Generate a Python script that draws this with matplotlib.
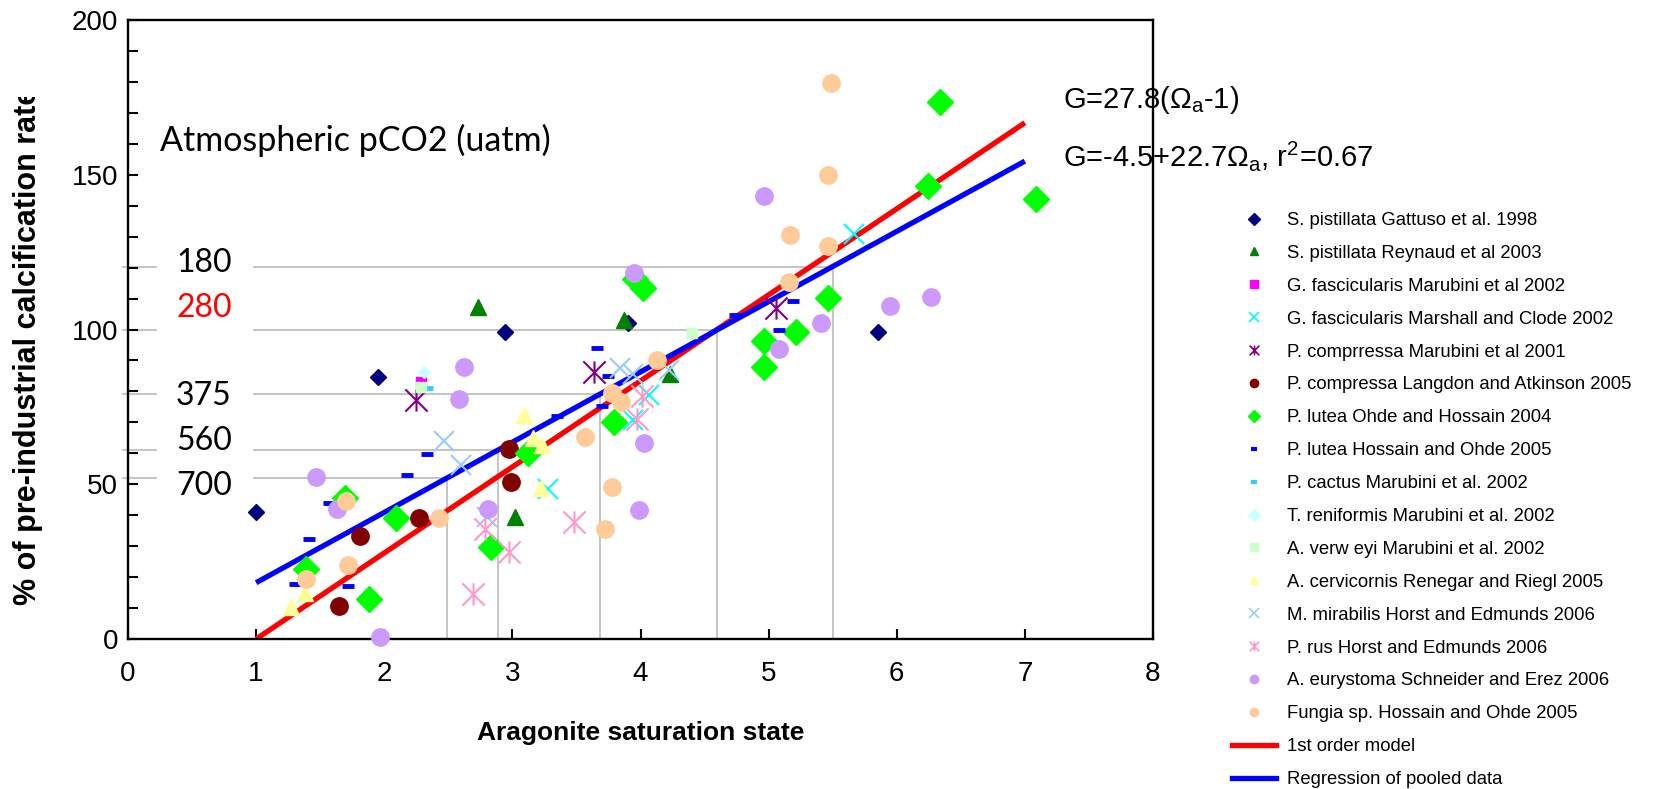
import numpy as np
import matplotlib
matplotlib.use("Agg")
import matplotlib.pyplot as plt
from matplotlib.path import Path
from matplotlib.lines import Line2D
from matplotlib.transforms import Bbox, TransformedBbox

plt.rcParams['font.family'] = ['Liberation Sans', 'DejaVu Sans']
plt.rcParams['mathtext.fontset'] = 'custom'
plt.rcParams['mathtext.rm'] = 'Liberation Sans'
plt.rcParams['mathtext.it'] = 'Liberation Sans:italic'
plt.rcParams['mathtext.bf'] = 'Liberation Sans:bold'

# ------------------------------
# Data (aragonite saturation state, % of pre-industrial calcification)
# ------------------------------
gattuso_x = [1.00, 1.95, 2.94, 3.90, 5.85]
gattuso_y = [41.1, 84.5, 99.3, 102.1, 99.1]

reynaud_x = [2.73, 3.87, 3.02, 4.23]
reynaud_y = [107.4, 103.0, 39.5, 85.6]

gfasc_marubini_x = [2.29]
gfasc_marubini_y = [82.9]

marshall_x = [3.28, 4.07, 3.94, 5.67]
marshall_y = [48.4, 78.8, 70.8, 131.0]

pcomp_marubini_x = [2.25, 3.64, 5.06]
pcomp_marubini_y = [77.2, 86.4, 106.8]

langdon_x = [1.65, 1.81, 2.27, 2.97, 2.99]
langdon_y = [10.7, 33.4, 39.0, 61.3, 50.8]

ohde_x = [1.39, 1.69, 1.88, 2.09, 2.83, 3.12, 3.79, 3.96, 4.02, 4.96, 4.96, 5.21, 5.46, 6.24, 6.34, 7.09]
ohde_y = [22.5, 45.5, 12.8, 39.0, 29.8, 60.0, 70.2, 116.2, 113.3, 96.4, 88.0, 99.1, 110.3, 146.5, 173.4, 142.1]

hossain_x = [1.30, 1.41, 1.57, 1.72, 2.18, 2.33, 3.35, 3.66, 3.70, 3.75, 4.74, 5.08, 5.19]
hossain_y = [17.8, 32.3, 44.0, 17.2, 53.1, 59.7, 72.2, 94.1, 75.3, 85.1, 104.7, 99.8, 109.2]

cactus_x = [2.33]
cactus_y = [81.0]

reniformis_x = [2.31]
reniformis_y = [86.4]

verweyi_x = [2.29, 4.40]
verweyi_y = [81.4, 98.8]

cervicornis_x = [1.27, 1.38, 3.09, 3.16, 3.23, 3.22]
cervicornis_y = [10.4, 14.8, 72.4, 64.8, 62.7, 48.7]

mirabilis_x = [2.47, 2.60, 2.80, 3.84, 3.94, 4.22]
mirabilis_y = [64.1, 56.2, 39.3, 87.5, 85.5, 86.9]

rus_x = [2.69, 2.79, 2.97, 3.48, 3.97, 4.01]
rus_y = [14.5, 35.4, 28.0, 37.9, 71.0, 78.6]

eurystoma_x = [1.47, 1.63, 1.97, 2.58, 2.62, 2.81, 3.95, 3.99, 4.03, 4.96, 5.08, 5.41, 5.95, 6.27]
eurystoma_y = [52.4, 41.9, 0.7, 77.5, 88.0, 41.9, 118.2, 41.7, 63.4, 143.2, 93.6, 102.0, 107.6, 110.4]

fungia_x = [1.39, 1.70, 1.72, 2.43, 3.57, 3.72, 3.78, 3.78, 3.85, 4.13, 5.16, 5.17, 5.46, 5.46, 5.49]
fungia_y = [19.4, 44.6, 23.9, 39.0, 65.2, 35.5, 49.0, 79.6, 76.7, 90.1, 115.2, 130.5, 127.1, 149.9, 179.5]

# atmospheric pCO2 levels and the saturation state they correspond to
pco2_labels = ['180', '280', '375', '560', '700']
pco2_omega = [5.50, 4.60, 3.68, 2.89, 2.49]

# model lines
omega_line = np.array([1.0, 7.0])
model_g = 27.8 * (omega_line - 1)
regress_g = -4.5 + 22.7 * omega_line

# ------------------------------
# Marker styles
# ------------------------------
star = Path([(0, -1), (0, 1), (-1, -1), (1, 1), (-1, 1), (1, -1)],
            [Path.MOVETO, Path.LINETO, Path.MOVETO, Path.LINETO, Path.MOVETO, Path.LINETO])

series = [
    ("S. pistillata Gattuso et al. 1998", gattuso_x, gattuso_y, 'D', '#000080', 8, 1),
    ("S. pistillata Reynaud et al 2003", reynaud_x, reynaud_y, '^', '#008000', 12, 1),
    ("G. fascicularis Marubini et al 2002", gfasc_marubini_x, gfasc_marubini_y, 's', '#FF00FF', 7, 1),
    ("G. fascicularis Marshall and Clode 2002", marshall_x, marshall_y, 'x', '#00FFFF', 15, 1.5),
    ("P. comprressa Marubini et al 2001", pcomp_marubini_x, pcomp_marubini_y, star, '#800080', 16, 1.5),
    ("P. compressa Langdon and Atkinson 2005", langdon_x, langdon_y, 'o', '#800000', 12.5, 1),
    ("P. lutea Ohde and Hossain 2004", ohde_x, ohde_y, 'D', '#00FF00', 13, 1),
    ("P. lutea Hossain and Ohde 2005", hossain_x, hossain_y, '_', '#0000FF', 9, 3.5),
    ("P. cactus Marubini et al. 2002", cactus_x, cactus_y, '_', '#33CCFF', 9, 3.5),
    ("T. reniformis Marubini et al. 2002", reniformis_x, reniformis_y, 'D', '#CCFFFF', 6.5, 1),
    ("A. verw eyi Marubini et al. 2002", verweyi_x, verweyi_y, 's', '#CCFFCC', 7.5, 1),
    ("A. cervicornis Renegar and Riegl 2005", cervicornis_x, cervicornis_y, '^', '#FFFF99', 11, 1),
    ("M. mirabilis Horst and Edmunds 2006", mirabilis_x, mirabilis_y, 'x', '#99CCFF', 15, 1.5),
    ("P. rus Horst and Edmunds 2006", rus_x, rus_y, star, '#FF99CC', 16, 1.5),
    ("A. eurystoma Schneider and Erez 2006", eurystoma_x, eurystoma_y, 'o', '#CC99FF', 12.5, 1),
    ("Fungia sp. Hossain and Ohde 2005", fungia_x, fungia_y, 'o', '#FFCC99', 12.5, 1),
]

W, H = 1653, 789
fig = plt.figure(figsize=(W / 100, H / 100), dpi=100)
ax = fig.add_axes([128 / W, 1 - 639 / H, 1025 / W, 619 / H])

GRAY = '#BFBFBF'

# pCO2 guide lines, meeting the pooled regression line
for lab, om in zip(pco2_labels, pco2_omega):
    g = -4.5 + 22.7 * om
    ax.plot([-0.04, 0.22], [g, g], color=GRAY, lw=1.3, zorder=1, clip_on=False)
    ax.plot([0.98, om], [g, g], color=GRAY, lw=1.3, zorder=1)
    ax.plot([om, om], [0, g], color=GRAY, lw=1.3, zorder=1)

ax.plot(omega_line, model_g, color='#FF0000', lw=3.8, zorder=2, solid_capstyle='butt')
ax.plot(omega_line, regress_g, color='#0000FF', lw=3.8, zorder=2, solid_capstyle='butt')

handles = []
for i, (name, xs, ys, mk, col, ms, mew) in enumerate(series):
    ax.plot(xs, ys, ls='none', marker=mk, color=col, markersize=ms, markeredgewidth=mew,
            markeredgecolor=col, zorder=3 + i * 0.01, clip_on=False)
    if mk == '_':
        lms, lmew = 5, 3
    elif mk == 'x' or mk is star:
        lms, lmew = 7, 1.2
    else:
        lms, lmew = 6, 1
    handles.append(Line2D([], [], ls='none', marker=mk, color=col, markersize=lms,
                          markeredgewidth=lmew, markeredgecolor=col, label=name))
handles.append(Line2D([], [], color='#FF0000', lw=3.8, label='1st order model'))
handles.append(Line2D([], [], color='#0000FF', lw=3.8, label='Regression of pooled data'))

# ------------------------------
# Axes styling
# ------------------------------
ax.set_xlim(0, 8)
ax.set_ylim(0, 200)
ax.set_xticks(range(0, 9))
ax.set_yticks(range(0, 201, 10))
ax.set_yticklabels([str(v) if v % 50 == 0 else '' for v in range(0, 201, 10)])
ax.tick_params(axis='both', direction='in', length=7, width=1.5, labelsize=20, color='black')
ax.tick_params(axis='x', pad=16)
ax.tick_params(axis='y', pad=7)
for sp in ax.spines.values():
    sp.set_linewidth(1.7)
    sp.set_color('black')

ax.set_xlabel('Aragonite saturation state', fontsize=19, fontweight='bold', labelpad=24)

ylab = fig.text(28 / W, 1 - 605 / H, '% of pre-industrial calcification rate', rotation=90,
                ha='center', va='bottom', fontsize=22, fontweight='bold')
ylab.set_clip_on(True)
ylab.set_clip_box(TransformedBbox(Bbox([[0, 0], [1, 1 - 97 / H]]), fig.transFigure))

# pCO2 annotation (Calibri-like font)
ax.text(0.25, 161, 'Atmospheric pCO2 (uatm)', fontsize=24.5, family='Lato', va='center', ha='left')
label_y = [121.5, 107, 78.5, 64, 49.5]
for lab, ly in zip(pco2_labels, label_y):
    ax.text(0.375, ly, lab, fontsize=23, family='Lato', va='center', ha='left',
            color='#FF0000' if lab == '280' else 'black')

# equations
ax.text(7.30, 174, r'G=27.8($\Omega_{\mathrm{a}}$-1)', fontsize=21, va='center', ha='left', clip_on=False)
ax.text(7.30, 156, r'G=-4.5+22.7$\Omega_{\mathrm{a}}$, r$^{2}$=0.67', fontsize=21, va='center', ha='left',
        clip_on=False)

fig.legend(handles=handles, loc='upper left', bbox_to_anchor=(1232 / W, 1 - 212 / H),
           frameon=False, fontsize=13.3, handlelength=2.4, handletextpad=0.6,
           labelspacing=0.86, borderpad=0, borderaxespad=0)

fig.savefig('out.png', dpi=100)
